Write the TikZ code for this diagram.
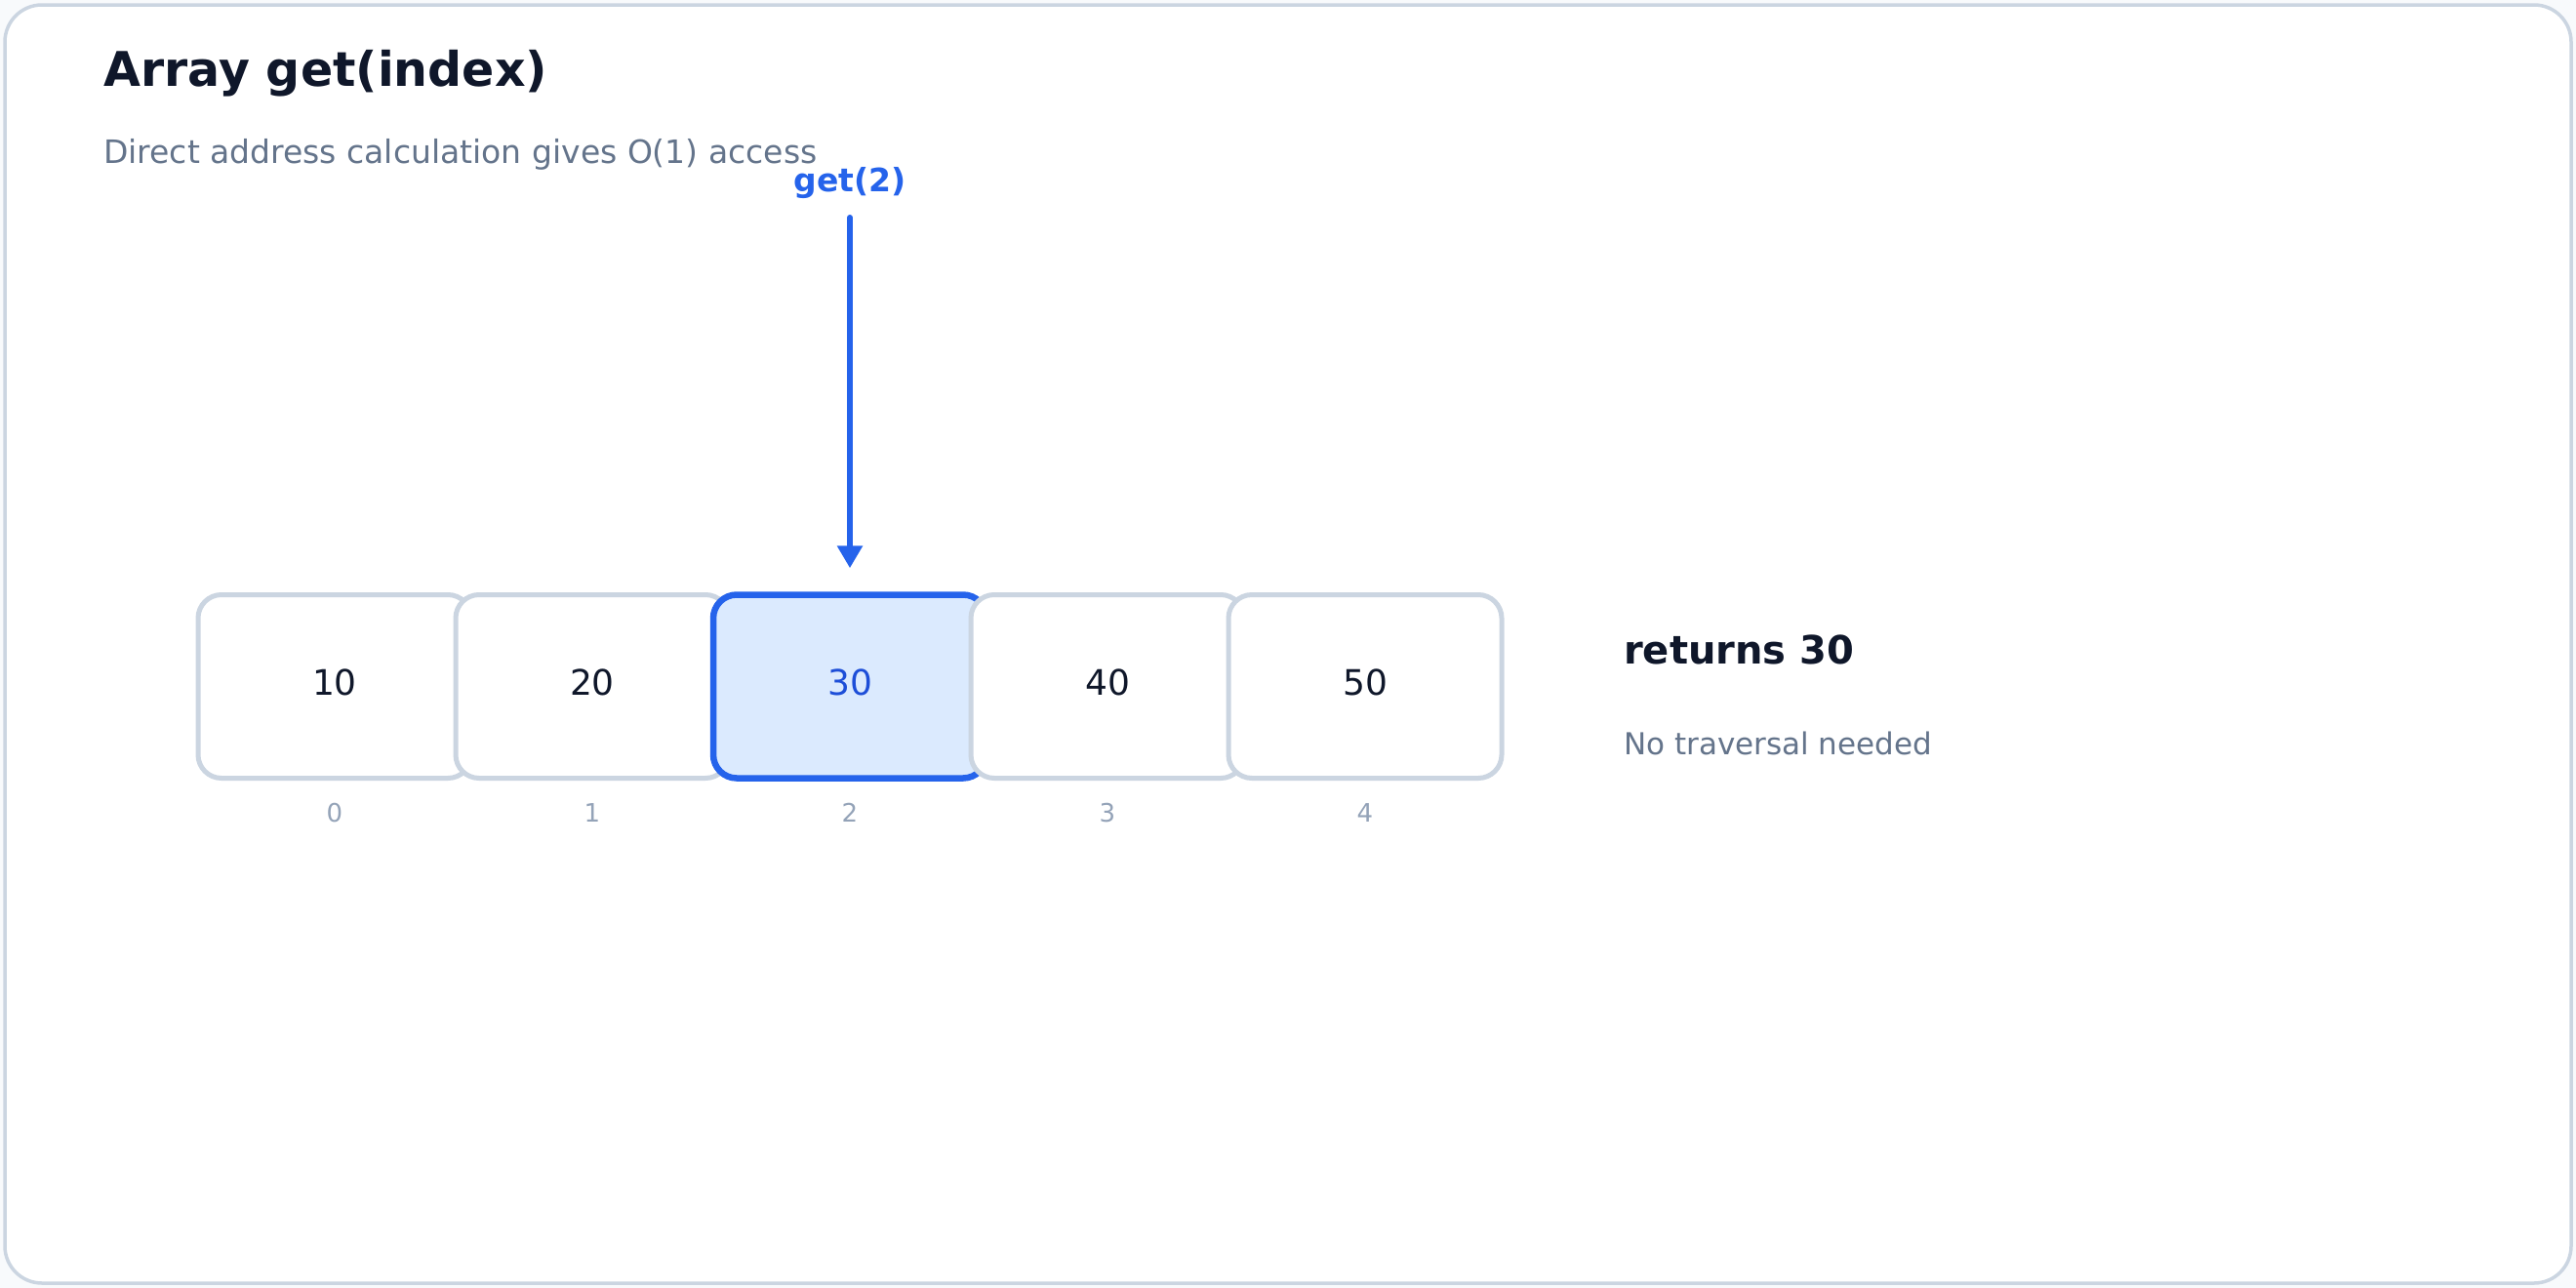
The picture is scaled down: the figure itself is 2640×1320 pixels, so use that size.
\documentclass[tikz,border=0pt]{standalone}
\usepackage{fontspec}
\setmainfont{DejaVu Sans}
\usepackage{tikz}
\usetikzlibrary{arrows.meta}
\definecolor{pagebg}{HTML}{F8FAFC}
\definecolor{framegray}{HTML}{CBD5E1}
\definecolor{ink}{HTML}{0F172A}
\definecolor{slate}{HTML}{64748B}
\definecolor{idxgray}{HTML}{94A3B8}
\definecolor{callblue}{HTML}{2563EB}
\definecolor{hitfill}{HTML}{DBEAFE}
\definecolor{hittext}{HTML}{1D4ED8}
\tikzset{
    frame/.style={draw=framegray, line width=3.5pt, fill=white, rounded corners=38pt},
    cell/.style={draw=framegray, line width=5pt, fill=white, rounded corners=24pt, minimum width=280pt, minimum height=188pt, inner sep=0pt, text height=26.2pt, text depth=8.6pt, text=ink, font=\fontsize{36}{42}\selectfont},
    hitcell/.style={cell, draw=callblue, fill=hitfill, line width=6.5pt, text=hittext},
    idxlbl/.style={text=idxgray, inner sep=0pt, font=\fontsize{26}{30}\selectfont},
    titlelbl/.style={anchor=base west, inner sep=0pt, text=ink, font=\fontsize{49}{57}\selectfont\bfseries},
    sublbl/.style={anchor=base west, inner sep=0pt, text=slate, font=\fontsize{33}{39}\selectfont},
    calllbl/.style={anchor=base, inner sep=0pt, text=callblue, font=\fontsize{33}{39}\selectfont\bfseries},
    resultlbl/.style={anchor=base west, inner sep=0pt, text=ink, font=\fontsize{40}{48}\selectfont\bfseries},
    notelbl/.style={anchor=base west, inner sep=0pt, text=slate, font=\fontsize{31}{37}\selectfont},
    callarrow/.style={-{Triangle[width=25pt, length=23pt]}, line width=6pt, draw=callblue, line cap=round},
}

\begin{document}
\begin{tikzpicture}[x=1pt, y=-1pt]
        \fill[pagebg] (0,0) rectangle (2640,1320);
        \draw[frame] (5,5) rectangle (2635,1315);
        % Heading
        \node[titlelbl] (title) at (106,88)  {Array get(index)};
        \node[sublbl]   (sub)   at (106,167) {Direct address calculation gives O(1) access};
        % Array cells
        \foreach \val/\sty [count=\k from 0] in {10/cell, 20/cell, 30/hitcell, 40/cell, 50/cell}
            \node[\sty] (c\k) at (343+264*\k,703.5) {\val};
        \foreach \k in {0,...,4}
            \node[idxlbl] (i\k) at (343+264*\k,833) {\k};
        % Access
        \node[calllbl] (call) at (871,196) {get(2)};
        \coordinate (callstart) at (871,223);
        \draw[callarrow] (callstart) -- ([yshift=24pt]c2.north);
        % Result
        \node[resultlbl] (res)  at (1664,680) {returns 30};
        \node[notelbl]   (note) at (1664,773) {No traversal needed};
    \end{tikzpicture}
\end{document}
